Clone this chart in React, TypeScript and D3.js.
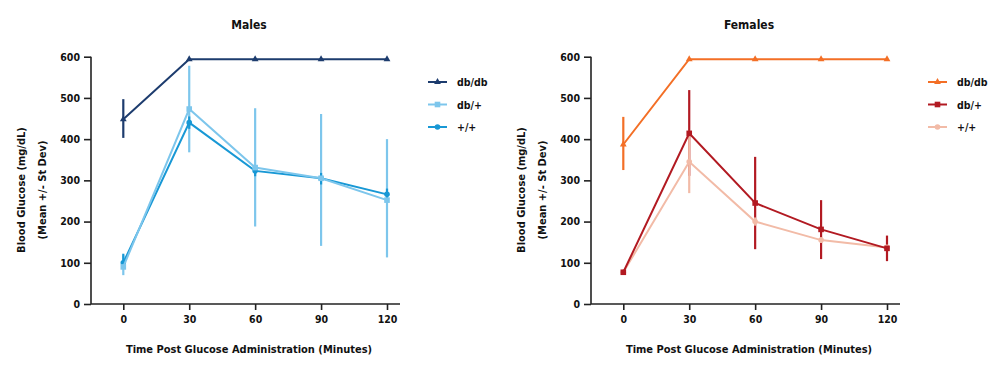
import React, { useEffect, useRef } from 'react';
import * as d3 from 'd3';

const times = [0, 30, 60, 90, 120];
const yTicks = [0, 100, 200, 300, 400, 500, 600];
const groups = ['db/db', 'db/+', '+/+'];

// Males
const maleDbDb = [448, 594, 594, 594, 594];
const maleDbDbLo = [403, 594, 594, 594, 594];
const maleDbDbHi = [497, 594, 594, 594, 594];
const maleDbHet = [90, 473, 331, 305, 252];
const maleDbHetLo = [70, 368, 188, 141, 113];
const maleDbHetHi = [118, 578, 475, 461, 400];
const maleWt = [100, 440, 323, 305, 266];
const maleWtLo = [86, 425, 310, 290, 250];
const maleWtHi = [122, 455, 336, 318, 280];

// Females
const femaleDbDb = [387, 594, 594, 594, 594];
const femaleDbDbLo = [325, 594, 594, 594, 594];
const femaleDbDbHi = [454, 594, 594, 594, 594];
const femaleDbHet = [77, 414, 245, 181, 135];
const femaleDbHetLo = [72, 311, 133, 109, 104];
const femaleDbHetHi = [82, 519, 357, 252, 166];
const femaleWt = [77, 345, 200, 155, 137];
const femaleWtLo = [72, 269, 190, 148, 130];
const femaleWtHi = [82, 420, 210, 162, 144];

const font = "'DejaVu Sans Condensed', 'DejaVu Sans', sans-serif";

const panels = [
  {
    title: 'Males',
    dx: 0,
    colors: ['#1d3c6e', '#7dc6ec', '#1898d5'],
    series: [
      { mean: maleDbDb, lo: maleDbDbLo, hi: maleDbDbHi },
      { mean: maleDbHet, lo: maleDbHetLo, hi: maleDbHetHi },
      { mean: maleWt, lo: maleWtLo, hi: maleWtHi },
    ],
  },
  {
    title: 'Females',
    dx: 500,
    colors: ['#f36f26', '#b21a22', '#f2bba7'],
    series: [
      { mean: femaleDbDb, lo: femaleDbDbLo, hi: femaleDbDbHi },
      { mean: femaleDbHet, lo: femaleDbHetLo, hi: femaleDbHetHi },
      { mean: femaleWt, lo: femaleWtLo, hi: femaleWtHi },
    ],
  },
];

const drawMarker = (g, kind, cx, cy, color) => {
  if (kind === 0) {
    g.append('path')
      .attr('d', d3.symbol().type(d3.symbolTriangle).size(20)())
      .attr('transform', `translate(${cx},${cy})`)
      .attr('fill', color);
  } else if (kind === 1) {
    g.append('rect')
      .attr('x', cx - 2.8).attr('y', cy - 2.8)
      .attr('width', 5.6).attr('height', 5.6)
      .attr('fill', color);
  } else {
    g.append('circle')
      .attr('cx', cx).attr('cy', cy).attr('r', 2.8)
      .attr('fill', color);
  }
};

const App = () => {
  const chartRef = useRef(null);

  useEffect(() => {
    const svg = d3.select(chartRef.current);
    svg.selectAll('*').remove();

    panels.forEach(p => {
      const g = svg.append('g').attr('transform', `translate(${p.dx},0)`);

      const x = d3.scaleLinear().domain([0, 120]).range([123.3, 387]);
      const y = d3.scaleLinear().domain([0, 600]).range([304, 56.7]);

      // axes
      const yAxis = g.append('g')
        .attr('transform', 'translate(91,0)')
        .call(d3.axisLeft(y).tickValues(yTicks).tickSize(7).tickPadding(4).tickSizeOuter(0));
      const xAxis = g.append('g')
        .attr('transform', 'translate(0,304)')
        .call(d3.axisBottom(x).tickValues(times).tickSize(6).tickPadding(6).tickSizeOuter(0));
      xAxis.select('.domain').attr('d', 'M91,0H400');
      [xAxis, yAxis].forEach(a => {
        a.selectAll('.domain, line').attr('stroke', '#222').attr('stroke-width', 1.6);
        a.selectAll('text')
          .attr('fill', '#111')
          .style('font-family', font)
          .style('font-weight', 'bold')
          .style('font-size', '10.5px');
      });
      yAxis.select('.domain').attr('d', 'M0,56.7V304');

      // titles
      g.append('text')
        .attr('x', 249).attr('y', 29)
        .attr('text-anchor', 'middle')
        .style('font-family', font).style('font-weight', 'bold').style('font-size', '12px')
        .attr('fill', '#111')
        .text(p.title);

      g.append('text')
        .attr('x', 249).attr('y', 353)
        .attr('text-anchor', 'middle')
        .style('font-family', font).style('font-weight', 'bold').style('font-size', '11px')
        .attr('fill', '#111')
        .text('Time Post Glucose Administration (Minutes)');

      ['Blood Glucose (mg/dL)', '(Mean +/- St Dev)'].forEach((t, i) => {
        g.append('text')
          .attr('transform', `translate(${25 + i * 21},190) rotate(-90)`)
          .attr('text-anchor', 'middle')
          .style('font-family', font).style('font-weight', 'bold').style('font-size', '11px')
          .attr('fill', '#111')
          .text(t);
      });

      // error bars
      p.series.forEach((s, si) => {
        g.append('g').selectAll('line')
          .data(times)
          .enter().append('line')
          .attr('x1', d => x(d)).attr('x2', d => x(d))
          .attr('y1', (d, i) => y(s.lo[i]))
          .attr('y2', (d, i) => y(s.hi[i]))
          .attr('stroke', p.colors[si])
          .attr('stroke-width', 2.2);
      });

      // lines + markers (drawn in reverse so db/db stays on top)
      [2, 1, 0].forEach(si => {
        const s = p.series[si];
        const line = d3.line<number>()
          .x((d, i) => x(times[i]))
          .y(d => y(d));
        g.append('path')
          .datum(s.mean)
          .attr('d', line)
          .attr('fill', 'none')
          .attr('stroke', p.colors[si])
          .attr('stroke-width', 2);
        s.mean.forEach((v, i) => drawMarker(g, si, x(times[i]), y(v), p.colors[si]));
      });

      // legend
      groups.forEach((name, i) => {
        const ly = 82 + i * 22.5;
        g.append('line')
          .attr('x1', 428).attr('x2', 447)
          .attr('y1', ly).attr('y2', ly)
          .attr('stroke', p.colors[i]).attr('stroke-width', 2);
        drawMarker(g, i, 437.5, ly, p.colors[i]);
        g.append('text')
          .attr('x', 457).attr('y', ly + 4)
          .style('font-family', font).style('font-weight', 'bold').style('font-size', '10.5px')
          .attr('fill', '#111')
          .text(name);
      });
    });
  }, []);

  return (
    <svg ref={chartRef} width={1000} height={373}
      style={{ position: 'absolute', left: 0, top: 0, background: '#fff' }}></svg>
  );
};

export default App;
